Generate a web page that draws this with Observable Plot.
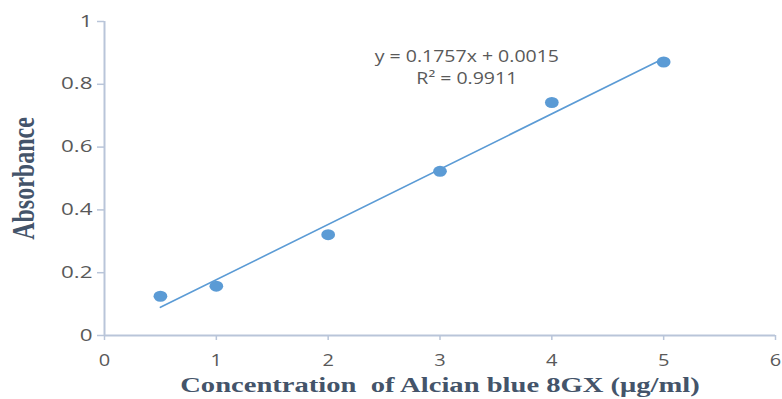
<!DOCTYPE html>
<html>
<head>
<meta charset="utf-8">
<script src="https://cdn.jsdelivr.net/npm/d3@7"></script>
<script src="https://cdn.jsdelivr.net/npm/@observablehq/plot@0.6"></script>
<style>
  html, body { margin: 0; padding: 0; background: #fff; }
  svg { display: block; }
</style>
</head>
<body>
<div id="chart"></div>
<script>
// Data
const concentration = [0.5, 1, 2, 3, 4, 5];
const absorbance = [0.125, 0.157, 0.321, 0.523, 0.742, 0.871];
const xTicks = [0, 1, 2, 3, 4, 5, 6];
const yTicks = [0, 0.2, 0.4, 0.6, 0.8, 1];
const equationLines = ["y = 0.1757x + 0.0015", "R² = 0.9911"];
const equationX = [3.24, 3.24];
const equationY = [0.886, 0.816];
const xTitle = "Concentration  of Alcian blue 8GX (μg/ml)";
const yTitle = "Absorbance";

const points = concentration.map((x, i) => ({x, y: absorbance[i]}));
const annot = equationLines.map((t, i) => ({t, x: equationX[i], y: equationY[i]}));

const axisColor = "#B9C5D9";
const tickText = "#595959";
const titleColor = "#44546A";
const blue = "#5B9BD5";
const fmt = d3.format("~g");

const svg = Plot.plot({
  width: 782,
  height: 399,
  marginLeft: 104,
  marginRight: 7,
  marginTop: 21,
  marginBottom: 64,
  style: {background: "#fff", fontFamily: "'Open Sans', sans-serif", fontSize: "16px", overflow: "visible"},
  x: {domain: [0, 6]},
  y: {domain: [0, 1]},
  marks: [
    Plot.ruleY([0], {stroke: axisColor, strokeWidth: 2}),
    Plot.ruleX([0], {stroke: axisColor, strokeWidth: 2}),
    Plot.axisX({ticks: xTicks, tickFormat: fmt, tickSize: 5, tickPadding: 14, stroke: axisColor, strokeWidth: 1.5,
      color: tickText, label: xTitle, labelAnchor: "center", labelArrow: "none", labelOffset: 56}),
    Plot.axisY({ticks: yTicks, tickFormat: fmt, tickSize: 7, tickPadding: 5, stroke: axisColor, strokeWidth: 1.5,
      color: tickText, label: yTitle, labelAnchor: "center", labelArrow: "none", labelOffset: 90}),
    Plot.linearRegressionY(points, {x: "x", y: "y", ci: 0, stroke: blue, strokeWidth: 1.6}),
    Plot.dot(points, {x: "x", y: "y", r: 5.5, fill: blue, stroke: "none"}),
    Plot.text(annot, {x: "x", y: "y", text: "t", fill: tickText, fontSize: 16, textAnchor: "middle"})
  ]
});

document.getElementById("chart").append(svg);

// Title styling
svg.querySelectorAll('g[aria-label="x-axis label"] text, g[aria-label="y-axis label"] text').forEach(t => {
  t.style.fontFamily = "'Liberation Serif', 'Times New Roman', serif";
  t.style.fontWeight = "bold";
  t.style.fill = titleColor;
  t.setAttribute("fill", titleColor);
});
svg.querySelectorAll('g[aria-label="x-axis label"] text').forEach(t => t.style.fontSize = "22px");
svg.querySelectorAll('g[aria-label="y-axis label"] text').forEach(t => t.style.fontSize = "24px");

// The reference image is horizontally stretched; mimic it
function stretch(el, s, anchor) {
  const r = el.getBoundingClientRect();
  let cx = r.x + r.width / 2;
  if (anchor === "end") cx = r.right;
  if (anchor === "start") cx = r.left;
  const cy = r.y + r.height / 2;
  const m = el.parentNode.getScreenCTM().inverse();
  const p = new DOMPoint(cx, cy).matrixTransform(m);
  const orig = el.getAttribute("transform") || "";
  el.setAttribute("transform", `translate(${p.x},${p.y}) scale(${s},1) translate(${-p.x},${-p.y}) ${orig}`);
}
svg.querySelectorAll('g[aria-label="y-axis tick label"] text').forEach(t => stretch(t, 1.4, "end"));
svg.querySelectorAll('g[aria-label="x-axis tick label"] text').forEach(t => stretch(t, 1.25, "middle"));
svg.querySelectorAll('g[aria-label="x-axis label"] text').forEach(t => stretch(t, 1.3, "middle"));
svg.querySelectorAll('g[aria-label="y-axis label"] text').forEach(t => stretch(t, 1.35, "middle"));
svg.querySelectorAll('g[aria-label="text"] text').forEach(t => stretch(t, 1.22, "middle"));
svg.querySelectorAll('g[aria-label="dot"] circle').forEach(c => stretch(c, 1.25, "middle"));
</script>
</body>
</html>
